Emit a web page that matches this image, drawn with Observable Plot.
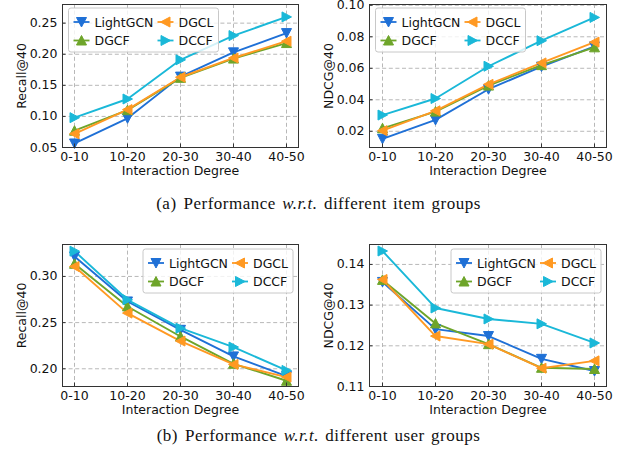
<!DOCTYPE html>
<html><head><meta charset="utf-8">
<script src="https://cdn.jsdelivr.net/npm/d3@7"></script>
<script src="https://cdn.jsdelivr.net/npm/@observablehq/plot@0.6"></script>
<style>
body{margin:0;background:#fff;}
#wrap{position:relative;width:637px;height:458px;overflow:hidden;background:#fff;}
.panel{position:absolute;}
.cap{position:absolute;left:0;width:637px;text-align:center;font-family:"Liberation Serif","DejaVu Serif",serif;font-size:17px;letter-spacing:0.5px;word-spacing:1.6px;color:#111;line-height:normal;}
.cap .tag{margin-right:7px;}
</style></head><body>
<div id="wrap">
  <div class="panel" id="p1" style="left:0;top:0"></div>
  <div class="panel" id="p2" style="left:317px;top:0"></div>
  <div class="panel" id="p3" style="left:0;top:230px"></div>
  <div class="panel" id="p4" style="left:317px;top:230px"></div>
  <div class="cap" style="top:194px"><span class="tag">(a)</span>Performance <i>w.r.t.</i> different item groups</div>
  <div class="cap" style="top:426px"><span class="tag">(b)</span>Performance <i>w.r.t.</i> different user groups</div>
</div>
<script>
// ---- data ----
const categories = ["0-10", "10-20", "20-30", "30-40", "40-50"];
const methods = ["LightGCN", "DGCF", "DGCL", "DCCF"];
const xLabel = "Interaction Degree";

// (a) item groups
const itemRecall = {
  LightGCN: [0.0565, 0.097, 0.164, 0.203, 0.234],
  DGCF:     [0.077, 0.110, 0.162, 0.193, 0.218],
  DGCL:     [0.072, 0.111, 0.163, 0.194, 0.221],
  DCCF:     [0.098, 0.128, 0.191, 0.230, 0.260]
};
const itemNdcg = {
  LightGCN: [0.0152, 0.0272, 0.0467, 0.0611, 0.0739],
  DGCF:     [0.0219, 0.0325, 0.0490, 0.0620, 0.0733],
  DGCL:     [0.0204, 0.0330, 0.0498, 0.0634, 0.0766],
  DCCF:     [0.0303, 0.0408, 0.0613, 0.0775, 0.0923]
};
// (b) user groups
const userRecall = {
  LightGCN: [0.3217, 0.2729, 0.2422, 0.2134, 0.1921],
  DGCF:     [0.3137, 0.2675, 0.2350, 0.2054, 0.1870],
  DGCL:     [0.3108, 0.2603, 0.2300, 0.2047, 0.1910],
  DCCF:     [0.3274, 0.2747, 0.2440, 0.2235, 0.1982]
};
const userNdcg = {
  LightGCN: [0.1357, 0.1241, 0.1224, 0.1168, 0.1138],
  DGCF:     [0.1362, 0.1255, 0.1204, 0.1146, 0.1143],
  DGCL:     [0.1363, 0.1224, 0.1204, 0.1145, 0.1163],
  DCCF:     [0.1433, 0.1293, 0.1266, 0.1254, 0.1207]
};

// tick values
const ticksItemRecall = [0.05, 0.10, 0.15, 0.20, 0.25];
const ticksItemNdcg = [0.02, 0.04, 0.06, 0.08, 0.10];
const ticksUserRecall = [0.20, 0.25, 0.30];
const ticksUserNdcg = [0.11, 0.12, 0.13, 0.14];

// ---- styling ----
const colors = {LightGCN: "#1f70d6", DGCF: "#6ea52a", DGCL: "#ff9922", DCCF: "#1ab8d8"};
// triangle direction (degrees clockwise from "up")
const dirs = {LightGCN: 180, DGCF: 0, DGCL: -90, DCCF: 90};
const FONT = "DejaVu Sans";

function tri(angle, h = 5) {
  const a = angle * Math.PI / 180;
  const pts = [[0, -h], [-h, h * 0.9], [h, h * 0.9]].map(([x, y]) => [
    x * Math.cos(a) - y * Math.sin(a),
    x * Math.sin(a) + y * Math.cos(a)
  ]);
  return {
    draw(ctx) {
      ctx.moveTo(pts[0][0], pts[0][1]);
      ctx.lineTo(pts[1][0], pts[1][1]);
      ctx.lineTo(pts[2][0], pts[2][1]);
      ctx.closePath();
    }
  };
}

function tidy(obj) {
  const rows = [];
  for (const m of methods) obj[m].forEach((v, i) => rows.push({method: m, degree: categories[i], value: v}));
  return rows;
}

function drawLegend(svg, x0, y0) {
  const W = 150, H = 44;
  const g = d3.select(svg).append("g")
    .attr("font-family", FONT).attr("font-size", 12.5).attr("text-anchor", "start");
  g.append("rect").attr("x", x0).attr("y", y0).attr("width", W).attr("height", H)
    .attr("rx", 2.5).attr("fill", "#fff").attr("fill-opacity", 0.8)
    .attr("stroke", "#c8c8c8").attr("stroke-width", 1);
  const place = {LightGCN: [0, 0], DGCF: [0, 1], DGCL: [1, 0], DCCF: [1, 1]};
  for (const m of methods) {
    const [c, r] = place[m];
    const lx = x0 + 5 + c * 84, ly = y0 + 14 + r * 18.5;
    g.append("line").attr("x1", lx).attr("x2", lx + 16).attr("y1", ly).attr("y2", ly)
      .attr("stroke", colors[m]).attr("stroke-width", 1.8);
    g.append("path").attr("d", d3.symbol(tri(dirs[m]))()).attr("transform", `translate(${lx + 8},${ly})`)
      .attr("fill", colors[m]).attr("stroke", colors[m]).attr("stroke-width", 1);
    g.append("text").attr("x", lx + 21).attr("y", ly).attr("dy", "0.36em")
      .attr("text-anchor", "start").attr("fill", "#111").text(m);
  }
}

function panel(id, cfg) {
  const rows = tidy(cfg.data);
  const grid = {stroke: "#b0b0b0", strokeOpacity: 1, strokeDasharray: "4,2.6", strokeWidth: 0.9};
  const marks = [
    Plot.gridY(cfg.ticks, grid),
    Plot.gridX(categories, grid),
    ...methods.map(m => Plot.line(rows.filter(d => d.method === m), {
      x: "degree", y: "value", stroke: colors[m], strokeWidth: 1.9
    })),
    ...methods.map(m => Plot.dot(rows.filter(d => d.method === m), {
      x: "degree", y: "value", symbol: tri(dirs[m]), r: 5, fill: colors[m], stroke: colors[m], strokeWidth: 1
    })),
    Plot.frame({stroke: "#333", strokeWidth: 1}),
    Plot.axisY(cfg.ticks, {tickSize: -3.5, tickPadding: 8.5, tickFormat: d3.format(".2f"), label: null, stroke: "#333", fill: "#111"}),
    Plot.axisX(categories, {tickSize: -3.5, tickPadding: 8, label: null, stroke: "#333", fill: "#111"}),
    Plot.text([cfg.yLabel], {frameAnchor: "left", dx: -41, rotate: -90, textAnchor: "middle", lineAnchor: "middle",
      text: d => d, fill: "#111", fontSize: 12.5}),
    Plot.text([xLabel], {frameAnchor: "bottom", dy: 23.5, textAnchor: "middle", lineAnchor: "middle",
      text: d => d, fill: "#111", fontSize: 12.5})
  ];
  const svg = Plot.plot({
    width: cfg.width, height: cfg.height,
    marginLeft: cfg.ml, marginRight: cfg.mr, marginTop: cfg.mt, marginBottom: cfg.mb,
    x: {type: "point", domain: categories, padding: 0.2},
    y: {domain: cfg.yDomain},
    style: {fontFamily: FONT, fontSize: "12.5px", color: "#111", background: "transparent", overflow: "visible"},
    marks
  });
  document.getElementById(id).appendChild(svg);
  const frameTop = cfg.mt, frameLeft = cfg.ml, frameRight = cfg.width - cfg.mr;
  if (cfg.legend === "left") drawLegend(svg, frameLeft + 6.5, frameTop + 4);
  else drawLegend(svg, frameRight - 155, frameTop + 5);
}

panel("p1", {data: itemRecall, ticks: ticksItemRecall, yDomain: [0.05, 0.28], yLabel: "Recall@40",
  width: 318, height: 185, ml: 62, mr: 20, mt: 4, mb: 38, legend: "left"});
panel("p2", {data: itemNdcg, ticks: ticksItemNdcg, yDomain: [0.0097, 0.1005], yLabel: "NDCG@40",
  width: 320, height: 185, ml: 52, mr: 31, mt: 4, mb: 38, legend: "left"});
panel("p3", {data: userRecall, ticks: ticksUserRecall, yDomain: [0.1808, 0.3346], yLabel: "Recall@40",
  width: 318, height: 194, ml: 62, mr: 20, mt: 14, mb: 38, legend: "right"});
panel("p4", {data: userNdcg, ticks: ticksUserNdcg, yDomain: [0.11, 0.1449], yLabel: "NDCG@40",
  width: 320, height: 194, ml: 52, mr: 31, mt: 14, mb: 38, legend: "right"});
</script>
</body></html>
